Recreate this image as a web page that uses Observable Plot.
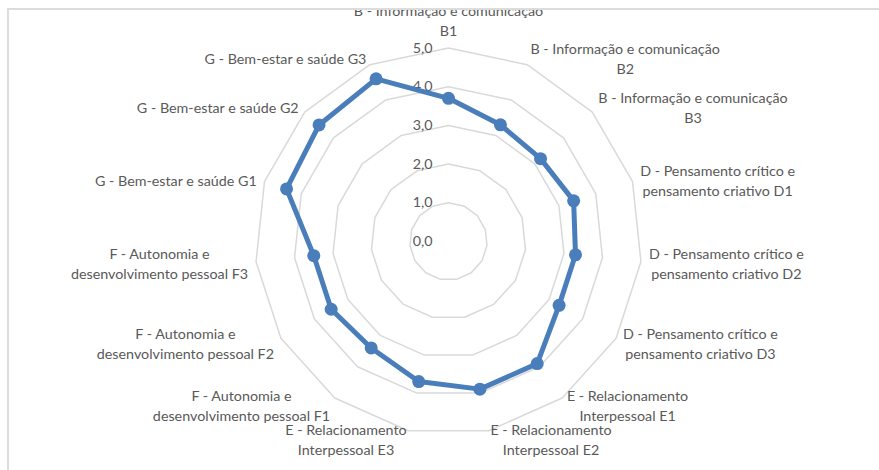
<!DOCTYPE html>
<html><head><meta charset="utf-8">
<script src="https://cdn.jsdelivr.net/npm/d3@7"></script>
<script src="https://cdn.jsdelivr.net/npm/@observablehq/plot@0.6"></script>
<style>
body{margin:0;background:#fff;overflow:hidden;}
#frame{position:absolute;left:7px;top:8px;width:900px;height:480px;border-top:2px solid #dcdcdc;border-left:2px solid #dcdcdc;overflow:hidden;}
#chart{position:absolute;left:-9px;top:-10px;}
</style></head>
<body><div id="frame"><div id="chart"></div></div>
<script>
// ---- data ----
const categories = [
  "B - Informação e comunicação\nB1",
  "B - Informação e comunicação\nB2",
  "B - Informação e comunicação\nB3",
  "D - Pensamento crítico e\npensamento criativo D1",
  "D - Pensamento crítico e\npensamento criativo D2",
  "D - Pensamento crítico e\npensamento criativo D3",
  "E - Relacionamento\nInterpessoal E1",
  "E - Relacionamento\nInterpessoal E2",
  "E - Relacionamento\nInterpessoal E3",
  "F - Autonomia e\ndesenvolvimento pessoal F1",
  "F - Autonomia e\ndesenvolvimento pessoal F2",
  "F - Autonomia e\ndesenvolvimento pessoal F3",
  "G - Bem-estar e saúde G1",
  "G - Bem-estar e saúde G2",
  "G - Bem-estar e saúde G3"
];
const values = [3.7, 3.3, 3.2, 3.4, 3.3, 3.3, 3.9, 3.9, 3.7, 3.4, 3.5, 3.5, 4.4, 4.5, 4.6];
const tickValues = [0, 1, 2, 3, 4, 5];
const tickLabels = ["0,0", "1,0", "2,0", "3,0", "4,0", "5,0"];

// ---- layout ----
const W = 879, H = 470;
const cx = 448, cy = 241, unit = 38.7;
const FONT = "Lato";
const FS = 14.3;
const TEXT = "#595959";
const n = categories.length;
const ang = i => i * 2 * Math.PI / n;
const polar = (v, i) => ({x: v * Math.sin(ang(i)), y: v * Math.cos(ang(i))});

const ctx = document.createElement("canvas").getContext("2d");
ctx.font = `${FS}px ${FONT}`;
const textW = s => Math.max(...s.split("\n").map(l => ctx.measureText(l).width));

// grid rings
const rings = [];
for (const r of tickValues.filter(t => t > 0)) {
  for (let i = 0; i <= n; i++) rings.push({r, ...polar(r, i % n)});
}
// data series
const series = values.map((v, i) => ({v, i, ...polar(v, i)}));
const closed = [...series, series[0]];

// category labels
const labR = 5 + 8 / unit;
const labels = categories.map((c, i) => {
  const p = polar(labR, i);
  const s = Math.sin(ang(i));
  const side = Math.abs(s) < 1e-6 ? 0 : Math.sign(s);
  const w = textW(c) / unit;
  return {text: c, x: p.x + side * w / 2, y: p.y, top: side === 0 && Math.cos(ang(i)) > 0};
});

const plot = Plot.plot({
  width: W, height: H,
  margin: 0,
  x: {domain: [-cx / unit, (W - cx) / unit], range: [0, W], axis: null},
  y: {domain: [-(H - cy) / unit, cy / unit], range: [H, 0], axis: null},
  style: {fontFamily: FONT, fontSize: FS + "px", background: "white"},
  marks: [
    Plot.line(rings, {x: "x", y: "y", z: "r", stroke: "#d9d9d9", strokeWidth: 1.5}),
    Plot.text(tickValues, {x: 0, y: d => d, text: (d, i) => tickLabels[i], textAnchor: "end", dx: -16, fill: TEXT, fontSize: FS}),
    Plot.line(closed, {x: "x", y: "y", stroke: "#4a7ebb", strokeWidth: 5, strokeLinejoin: "round"}),
    Plot.dot(series, {x: "x", y: "y", r: 6.5, fill: "#4a7ebb", stroke: "none"}),
    Plot.text(labels.filter(d => !d.top), {x: "x", y: "y", text: "text", textAnchor: "middle", lineAnchor: "middle", lineHeight: 20 / FS, fill: TEXT, fontSize: FS}),
    Plot.text(labels.filter(d => d.top), {x: "x", y: "y", text: "text", textAnchor: "middle", lineAnchor: "bottom", dy: -4, lineHeight: 20 / FS, fill: TEXT, fontSize: FS})
  ]
});
document.getElementById("chart").appendChild(plot);
</script>
</body></html>
